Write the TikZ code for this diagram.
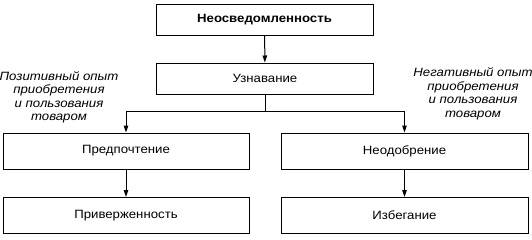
\documentclass[tikz,border=0pt]{standalone}
\usepackage{fontspec}
\setmainfont{Liberation Sans}[FakeStretch=1.1]
\usepackage{tikz}
\usetikzlibrary{arrows.meta,positioning}

\begin{document}
\begin{tikzpicture}[
    x=1pt, y=-1pt,
    topbox/.style={rectangle, draw=black, line width=1pt, inner sep=0pt,
                   minimum width=217pt, minimum height=31pt,
                   font=\fontsize{12}{13}\selectfont\bfseries},
    stagebox/.style={rectangle, draw=black, line width=1pt, inner sep=0pt,
                     minimum width=246pt, minimum height=36pt,
                     font=\fontsize{12}{13}\selectfont},
    arrow/.style={-{Triangle[length=7pt, width=4.5pt]}, line width=1pt},
    note/.style={font=\fontsize{12}{13.5}\selectfont\itshape, align=center,
                 inner sep=0pt}
]
    \useasboundingbox (0,0) rectangle (532,239);

    % Top of the chain
    \node[topbox] (T) at (264.5, 19.5) {Неосведомленность};
    \node[topbox, font=\fontsize{12}{13}\selectfont] (U) at (265, 78.5) {Узнавание};

    % Two branches
    \node[stagebox] (P) at (126, 151) {Предпочтение};
    \node[stagebox] (A) at (126, 215.5) {Приверженность};
    \node[stagebox, minimum width=247pt] (N) at (404.5, 151) {Неодобрение};
    \node[stagebox, minimum width=247pt] (I) at (404.5, 215.5) {Избегание};

    % Split point
    \coordinate (split) at (265, 111);

    % Arrows
    \draw[arrow] (T) -- (U);
    \draw[line width=1pt] (U) -- (split);
    \draw[arrow] (split) -| (P);
    \draw[arrow] (split) -| (N);
    \draw[arrow] (P) -- (A);
    \draw[arrow] (N) -- (I);

    % Side notes
    \node[note] (pos) at (59, 97.5) {Позитивный опыт\\приобретения\\и пользования\\товаром};
    \node[note] (neg) at (473, 94) {Негативный опыт\\приобретения\\и пользования\\товаром};
\end{tikzpicture}
\end{document}
